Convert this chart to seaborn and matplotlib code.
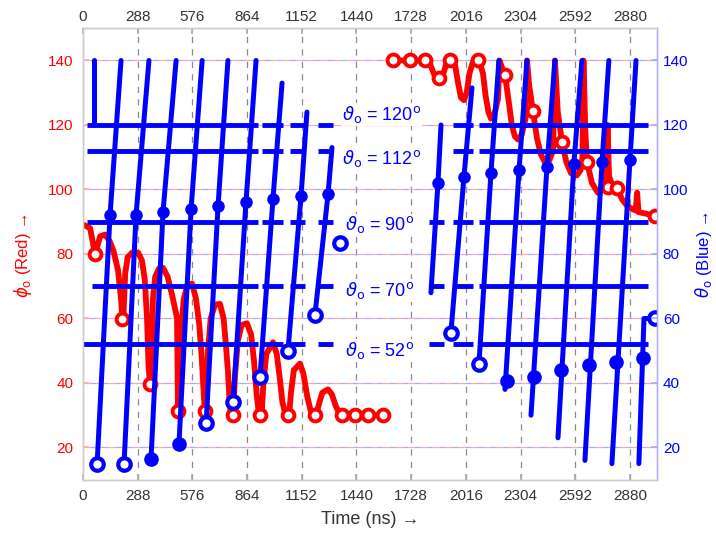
import matplotlib
matplotlib.use("Agg")
import matplotlib.pyplot as plt
import seaborn as sns
import pandas as pd
import numpy as np

# ---------------- data ----------------
x_ticks = [0, 288, 576, 864, 1152, 1440, 1728, 2016, 2304, 2592, 2880]
y_ticks = [20, 40, 60, 80, 100, 120, 140]

# red curve (phi_o), left part
red_left_t = [5, 37, 63, 78, 90, 116, 140, 160, 184, 200, 207, 212,
              222, 235, 260, 290, 310, 325, 337, 345, 352, 360,
              368, 380, 400, 421, 445, 470, 488, 495, 500, 507,
              515, 530, 550, 574, 595, 612, 625, 636, 642, 648,
              658, 672, 695, 721, 740, 752, 763, 772, 779, 790,
              800, 815, 835, 863, 885, 900, 915, 925, 932, 940,
              950, 965, 1000, 1020, 1035, 1050, 1065, 1079, 1085,
              1095, 1110, 1142, 1160, 1180, 1200, 1221, 1228,
              1240, 1260, 1290, 1310, 1330, 1350, 1364, 1579]
red_left_phi = [89, 88, 80, 83, 85.5, 86, 84, 81, 75, 66, 60, 60,
                74, 79, 80.5, 80.4, 78, 72, 60, 45, 40, 40,
                66, 73, 75.5, 75.7, 73, 67, 62, 60, 31, 31,
                55, 66, 70.5, 70.8, 66, 58, 48, 36, 31.2, 31.2,
                50, 60, 64.3, 64.5, 60, 52, 43.6, 34, 30, 30,
                42, 53, 58, 58.5, 55, 47, 36, 31, 30, 30,
                40, 49, 52.6, 49, 42, 34, 30.5, 30, 30,
                37, 44, 46, 43, 36, 31, 30, 30,
                33, 37, 38, 36.5, 33, 30.5, 30, 30]

# red curve (phi_o), right part
red_right_t = [1632, 1716, 1795, 1827, 1850, 1874, 1895, 1916, 1937, 1958,
               1975, 1990, 2006, 2020, 2035, 2053, 2085, 2106, 2120, 2135,
               2148, 2165, 2185, 2193, 2205, 2222, 2240, 2258, 2274, 2290,
               2310, 2330, 2338, 2350, 2369, 2390, 2410, 2432, 2455, 2475,
               2485, 2500, 2522, 2545, 2570, 2601, 2620, 2630, 2635, 2645,
               2654, 2680, 2711, 2740, 2755, 2762, 2770, 2790, 2812, 2838,
               2864, 2890, 2910, 2918, 2925, 2964, 3010]
red_right_phi = [140, 140, 140, 139, 135.5, 134, 135.5, 139.5, 140, 139,
                 133, 128.5, 127.7, 130, 136, 139.5, 140, 136, 129, 124,
                 122, 123, 128, 140, 138, 135.5, 128, 120, 116.5, 115.5,
                 117, 122, 140, 132, 124.4, 116, 111, 108.5, 109, 112,
                 140, 124, 114.7, 108.5, 105, 104.4, 106, 110, 140, 118,
                 108.5, 102, 99, 100, 104, 120, 104, 101, 100.4, 97,
                 95, 94, 93.5, 99, 93, 92.5, 91.8]

red_mark_t = [63, 205, 350, 500, 642, 790, 932, 1079, 1221, 1364, 1432, 1500, 1579,
              1632, 1721, 1800, 1874, 1932, 2078, 2222, 2369, 2522, 2654, 2764,
              2812, 3010]
red_mark_phi = [80, 59.8, 39.8, 31.2, 31.2, 30, 30, 30, 30, 30, 30, 30, 30,
                140, 140, 140, 134.5, 140, 140, 135.5, 124.4, 114.7, 108.5, 100.8,
                100.4, 91.8]

# blue traces (theta_o)
blue_traces_t = [[58, 58], [74, 142, 200], [216, 279, 347], [358, 421, 490],
                 [505, 569, 627], [648, 711, 763], [790, 858, 911],
                 [932, 1000, 1048], [1079, 1148, 1179], [1221, 1290, 1311],
                 [1832, 1869, 1885], [1937, 2006, 2048], [2085, 2148, 2190],
                 [2222, 2296, 2338], [2359, 2443, 2485], [2501, 2585, 2627],
                 [2643, 2733, 2769], [2785, 2880, 2912], [2927, 2954, 3010]]
blue_traces_theta = [[140, 120], [15, 92, 140], [15, 92, 140], [16.5, 93, 140],
                     [21, 94, 140], [27.5, 95, 140], [34, 96, 140],
                     [42, 97, 133], [50, 98, 124], [61, 98.5, 113],
                     [68, 102, 120], [55.5, 104, 131.5], [46, 105, 140],
                     [38, 106, 140], [30, 107, 140], [23, 108, 140],
                     [16, 108.5, 140], [15, 109, 140], [15, 60, 60]]

blue_dot_t = [142, 279, 421, 569, 711, 858, 1000, 1148, 1290,
              1869, 2006, 2148, 2296, 2443, 2585, 2733, 2880]
blue_dot_theta = [92, 92, 93, 94, 95, 96, 97, 98, 98.5,
                  102, 104, 105, 106, 107, 108, 108.5, 109]

blue_open_t = [74, 216, 648, 790, 932, 1079, 1221, 1353, 1937, 2085, 3012]
blue_open_theta = [15, 15, 27.5, 34, 42, 50, 61, 83.5, 55.5, 46, 60]
blue_filled_t = [358, 505, 2232, 2375, 2517, 2664, 2806, 2948]
blue_filled_theta = [16.5, 21, 40.6, 42, 44, 45.6, 46.5, 47.7]

theta_levels = [120, 112, 90, 70, 52]
level_labels = ["120", "112", "90", "70", "52"]
level_start = [20, 20, 20, 45, 0]
left_dashes = [(942, 1053), (1090, 1169), (1237, 1316)]
right_dashes_short = [(1948, 2053), (2085, 2975)]
right_dashes_long = [(1822, 1900), (1948, 2053), (2085, 2975)]

# ---------------- styling ----------------
sns.set_theme(style="white")
plt.rcParams["font.family"] = ["Liberation Sans", "DejaVu Sans"]
plt.rcParams["mathtext.fontset"] = "dejavusans"

RED = "#ff0000"
BLUE = "#0000ff"

fig = plt.figure(figsize=(7.16, 5.33), dpi=100)
ax = fig.add_axes([0.116, 0.100, 0.802, 0.847])
ax.set_xlim(0, 3024)
ax.set_ylim(10, 150)

# grids
for xv in x_ticks[1:]:
    ax.axvline(xv, color="#8a8a8a", lw=0.9, linestyle=(0, (5, 5)), zorder=0)
for yv in y_ticks:
    ax.axhline(yv, color="#ffaaaa", lw=0.9, linestyle=(0, (5, 5)), zorder=0)
    ax.axhline(yv, color="#aaaaff", lw=0.9, linestyle=(5, (5, 5)), zorder=0)

# red curve
df_rl = pd.DataFrame({"t": red_left_t, "phi": red_left_phi})
df_rr = pd.DataFrame({"t": red_right_t, "phi": red_right_phi})
sns.lineplot(data=df_rl, x="t", y="phi", sort=False, estimator=None, color=RED,
             lw=4.2, ax=ax, zorder=2)
sns.lineplot(data=df_rr, x="t", y="phi", sort=False, estimator=None, color=RED,
             lw=4.2, ax=ax, zorder=2)
ax.plot(red_mark_t, red_mark_phi, "o", ms=8.5, mfc="white", mec=RED, mew=2.8,
        zorder=3, ls="none")

# blue horizontal levels
for lvl, st in zip(theta_levels, level_start):
    segs = [(st, 921)] + left_dashes
    segs += right_dashes_short if lvl in (120, 112) else right_dashes_long
    for a, b in segs:
        ax.hlines(lvl, a, b, color=BLUE, lw=3.5, zorder=4, capstyle="butt")

# blue traces
rows = []
for i, (ts, ths) in enumerate(zip(blue_traces_t, blue_traces_theta)):
    for t, th in zip(ts, ths):
        rows.append({"trace": i, "t": t, "theta": th})
df_b = pd.DataFrame(rows)
sns.lineplot(data=df_b, x="t", y="theta", units="trace", estimator=None,
             sort=False, color=BLUE, lw=3.6, ax=ax, zorder=5)
ax.plot(blue_dot_t, blue_dot_theta, "o", ms=8, color=BLUE, ls="none", zorder=6)
ax.plot(blue_filled_t, blue_filled_theta, "o", ms=9.5, color=BLUE, ls="none", zorder=6)
ax.plot(blue_open_t, blue_open_theta, "o", ms=9, mfc="white", mec=BLUE, mew=3.0,
        ls="none", zorder=6)

# level labels
label_x = [1362, 1362, 1379, 1379, 1379]
label_y = [121.5, 108, 87.3, 67, 48.3]
for lx, ly, lab in zip(label_x, label_y, level_labels):
    ax.text(lx, ly, r"$\vartheta_{\rm o}$ = " + lab + r"$^{\rm o}$", color=BLUE,
            fontsize=13, ha="left", va="baseline", zorder=7,
            bbox=dict(facecolor="white", edgecolor="none", pad=0.5))

ax.set_xlabel("")
ax.set_ylabel("")

# axes / ticks
ax.set_xticks(x_ticks)
ax.set_xticklabels([str(v) for v in x_ticks])
ax.set_yticks(y_ticks)
ax.set_yticklabels([str(v) for v in y_ticks])
ax.tick_params(axis="x", direction="in", length=4, colors="#aaaaaa",
               labelcolor="#333333", labelsize=11, pad=7)
ax.tick_params(axis="y", direction="in", length=4, colors="#ffaaaa",
               labelcolor=RED, labelsize=11, pad=7)

ax_top = ax.twiny()
ax_top.set_xlim(ax.get_xlim())
ax_top.set_xticks(x_ticks)
ax_top.set_xticklabels([str(v) for v in x_ticks])
ax_top.tick_params(axis="x", direction="in", length=4, colors="#aaaaaa",
                   labelcolor="#333333", labelsize=11, pad=3)

ax_r = ax.twinx()
ax_r.set_ylim(ax.get_ylim())
ax_r.set_yticks(y_ticks)
ax_r.set_yticklabels([str(v) for v in y_ticks])
ax_r.tick_params(axis="y", direction="in", length=4, colors="#aaaaff",
                 labelcolor=BLUE, labelsize=11, pad=4)

for a in (ax, ax_top, ax_r):
    for s in a.spines.values():
        s.set_color("#cccccc")
        s.set_linewidth(0.9)
ax_r.spines["right"].set_color("#aaaaff")

fig.text(370 / 716, 1 - 520 / 533, "Time (ns) →", ha="center", va="center",
         fontsize=13, color="#333333")
fig.text(23 / 716, 1 - 256 / 533, r"$\phi_{\rm o}$ (Red) →", ha="center",
         va="center", rotation=90, fontsize=12, color=RED)
fig.text(703 / 716, 1 - 255 / 533, r"$\theta_{\rm o}$ (Blue) →", ha="center",
         va="center", rotation=90, fontsize=12, color=BLUE)

fig.savefig("out.png", dpi=100)
